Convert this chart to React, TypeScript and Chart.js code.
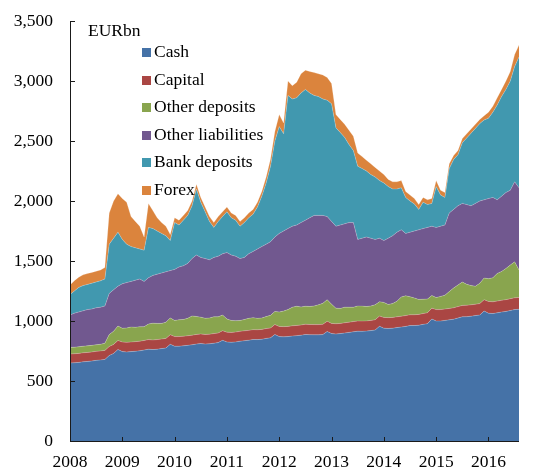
import { useEffect, useRef } from 'react';
import { Chart, registerables } from 'chart.js';

Chart.register(...registerables);

const YEARS = [2008, 2009, 2010, 2011, 2012, 2013, 2014, 2015, 2016];
const MONTHS_IN_LAST_YEAR = 8;
const Y_TICKS = [0, 500, 1000, 1500, 2000, 2500, 3000, 3500];

const CATEGORIES: string[] = [];
YEARS.forEach((y) => {
  const n = y === 2016 ? MONTHS_IN_LAST_YEAR : 12;
  for (let m = 1; m <= n; m++) CATEGORIES.push(`${y}-${String(m).padStart(2, '0')}`);
});

const CASH = [
  650, 652, 655, 660, 663, 667, 672, 676, 680, 712, 730, 763,
  745, 742, 745, 748, 752, 758, 765, 762, 765, 770, 775, 806,
  790, 790, 793, 797, 802, 808, 812, 808, 810, 815, 820, 839,
  825, 823, 826, 832, 836, 840, 846, 845, 848, 855, 860, 888,
  870, 868, 870, 875, 878, 882, 888, 886, 885, 885, 887, 913,
  895, 892, 895, 900, 905, 910, 915, 914, 916, 920, 925, 956,
  940, 938, 940, 945, 950, 955, 962, 962, 965, 972, 978, 1017,
  1000, 1000, 1005, 1010, 1015, 1025, 1035, 1036, 1040, 1045, 1050, 1083,
  1065, 1062, 1068, 1075, 1080, 1088, 1095, 1098,
];

const CAPITAL = [
  75, 75, 75, 75, 75, 75, 75, 75, 75, 75, 75, 75,
  80, 80, 80, 80, 80, 80, 80, 80, 80, 80, 80, 80,
  80, 80, 80, 80, 80, 80, 80, 80, 80, 80, 80, 80,
  82, 82, 82, 82, 82, 82, 82, 82, 82, 82, 82, 82,
  85, 85, 85, 85, 85, 85, 85, 85, 85, 85, 85, 85,
  85, 85, 85, 85, 85, 85, 85, 85, 85, 85, 85, 85,
  90, 90, 90, 90, 90, 90, 90, 90, 90, 90, 90, 90,
  95, 95, 95, 95, 95, 95, 95, 95, 95, 95, 95, 95,
  98, 98, 98, 98, 98, 98, 98, 98,
];

const OTHER_DEPOSITS = [
  55, 55, 55, 55, 55, 55, 55, 55, 60, 100, 110, 120,
  115, 120, 125, 120, 120, 115, 130, 140, 135, 130, 135, 140,
  135, 140, 140, 145, 160, 150, 140, 135, 135, 140, 135, 130,
  110, 100, 95, 90, 95, 100, 100, 95, 95, 100, 105, 110,
  120, 130, 140, 155, 160, 150, 150, 150, 155, 165, 175, 180,
  160, 130, 125, 130, 125, 120, 125, 125, 120, 120, 125, 120,
  125, 110, 115, 130, 160, 165, 150, 140, 125, 120, 115, 105,
  100, 110, 115, 140, 165, 180, 195, 175, 160, 150, 170, 180,
  190, 200, 230, 240, 260, 280, 300, 230,
];

const OTHER_LIABILITIES = [
  270, 283, 290, 295, 302, 303, 308, 309, 310, 343, 345, 332,
  370, 378, 380, 392, 398, 377, 385, 398, 410, 420, 420, 394,
  425, 440, 447, 458, 478, 512, 498, 497, 485, 495, 505, 511,
  553, 545, 537, 516, 517, 538, 552, 578, 595, 603, 613, 620,
  655, 667, 675, 675, 677, 703, 717, 739, 755, 745, 733, 692,
  690, 683, 695, 695, 705, 705, 555, 566, 579, 565, 545, 529,
  515, 552, 565, 575, 560, 520, 538, 558, 580, 588, 597, 578,
  585, 585, 585, 655, 655, 660, 655, 664, 665, 690, 685, 652,
  667, 670, 614, 627, 632, 624, 667, 684,
];

const BANK_DEPOSITS = [
  170, 185, 205, 210, 210, 215, 215, 220, 225, 410, 430, 450,
  370, 320, 290, 270, 250, 260, 420, 390, 360, 330, 300, 250,
  390, 350, 380, 400, 440, 550, 460, 390, 320, 250, 290, 310,
  340, 310, 300, 270, 290, 300, 310, 350, 420, 510, 630, 800,
  890, 810, 1110, 1060, 1060, 1080, 1090, 1040, 1000, 990, 970, 970,
  980, 820, 770, 720, 650, 600, 610, 580, 550, 530, 520, 480,
  480, 430, 390, 360, 350, 300, 260, 225, 170, 220, 190, 190,
  340, 260, 230, 370, 415, 425, 505, 555, 605, 625, 645, 665,
  670, 710, 790, 830, 860, 910, 960, 1090,
];

const FOREX = [
  80, 85, 85, 90, 90, 90, 90, 90, 95, 260, 310, 320,
  340, 350, 250, 220, 190, 110, 200, 150, 110, 90, 80, 50,
  40, 40, 40, 40, 40, 40, 40, 40, 40, 40, 40, 40,
  40, 40, 40, 40, 40, 40, 40, 40, 40, 50, 60, 80,
  100, 90, 120, 110, 130, 160, 160, 180, 190, 190, 200, 190,
  170, 110, 110, 110, 120, 120, 110, 100, 90, 90, 80, 80,
  70, 60, 60, 60, 60, 50, 50, 45, 40, 40, 40, 40,
  50, 40, 40, 40, 35, 35, 35, 35, 35, 35, 35, 35,
  50, 50, 60, 60, 70, 80, 100, 100,
];

const SERIES_NAMES = ['Cash', 'Capital', 'Other deposits', 'Other liabilities', 'Bank deposits', 'Forex'];
const SERIES_COLORS = ['#4572A7', '#AA4643', '#89A54E', '#71588F', '#4198AF', '#DB843D'];
const SERIES_VALUES = [CASH, CAPITAL, OTHER_DEPOSITS, OTHER_LIABILITIES, BANK_DEPOSITS, FOREX];

const FONT_FAMILY = '"Liberation Serif", "Times New Roman", serif';
const FONT_SIZE = 17.5;

const overlayPlugin = {
  id: 'overlay',
  afterDatasetsDraw(chart: any) {
    const { ctx, chartArea, scales } = chart;
    const { left, right, top, bottom } = chartArea;
    ctx.save();
    ctx.strokeStyle = '#1a1a1a';
    ctx.lineWidth = 1;
    ctx.beginPath();
    ctx.moveTo(left + 0.5, top);
    ctx.lineTo(left + 0.5, bottom + 0.5);
    ctx.lineTo(right, bottom + 0.5);
    ctx.stroke();
    Y_TICKS.forEach((v) => {
      const y = Math.round(scales.y.getPixelForValue(v)) + 0.5;
      ctx.beginPath();
      ctx.moveTo(left, y);
      ctx.lineTo(left + 5, y);
      ctx.stroke();
    });
    CATEGORIES.forEach((c, i) => {
      if (!c.endsWith('-01')) return;
      const x = Math.round(scales.x.getPixelForValue(i)) + 0.5;
      ctx.beginPath();
      ctx.moveTo(x, bottom);
      ctx.lineTo(x, bottom - 4);
      ctx.stroke();
    });
    ctx.font = `${FONT_SIZE}px ${FONT_FAMILY}`;
    ctx.textBaseline = 'middle';
    ctx.textAlign = 'left';
    ctx.fillStyle = '#000';
    ctx.fillText('EURbn', 88, 31);
    SERIES_NAMES.forEach((name, i) => {
      const cy = 52.5 + i * 27.5;
      ctx.fillStyle = SERIES_COLORS[i];
      ctx.fillRect(142, Math.round(cy - 4.5), 9, 9);
      ctx.fillStyle = '#000';
      ctx.fillText(name, 154, cy);
    });
    ctx.restore();
  },
};

export default function App() {
  const canvasRef = useRef<HTMLCanvasElement | null>(null);

  useEffect(() => {
    const canvas = canvasRef.current;
    if (!canvas) return;
    const datasets = SERIES_NAMES.map((name, i) => ({
      label: name,
      data: SERIES_VALUES[i],
      backgroundColor: SERIES_COLORS[i],
      borderColor: 'rgba(255,255,255,0.35)',
      borderWidth: 0.6,
      pointRadius: 0,
      tension: 0,
      fill: i === 0 ? 'origin' : '-1',
    }));
    const chart = new Chart(canvas, {
      type: 'line',
      data: { labels: CATEGORIES, datasets },
      options: {
        animation: false,
        responsive: true,
        maintainAspectRatio: false,
        layout: { padding: { left: 0, right: 26, top: 21, bottom: 0 } },
        plugins: { legend: { display: false }, tooltip: { enabled: false } },
        elements: { line: { borderJoinStyle: 'round' } },
        scales: {
          x: {
            type: 'category',
            offset: false,
            grid: { display: false, drawTicks: false },
            border: { display: false },
            ticks: {
              autoSkip: false,
              maxRotation: 0,
              padding: 11,
              color: '#000',
              font: { family: FONT_FAMILY, size: FONT_SIZE },
              callback: (_v: any, i: number) =>
                CATEGORIES[i] && CATEGORIES[i].endsWith('-01') ? CATEGORIES[i].slice(0, 4) : null,
            },
            afterFit: (scale: any) => {
              scale.height = 29;
              scale.paddingLeft = 0;
              scale.paddingRight = 0;
            },
          },
          y: {
            stacked: true,
            min: 0,
            max: 3500,
            grid: { display: false, drawTicks: false },
            border: { display: false },
            ticks: {
              stepSize: 500,
              padding: 17,
              color: '#000',
              font: { family: FONT_FAMILY, size: FONT_SIZE },
              callback: (v: any) => Number(v).toLocaleString('en-US'),
            },
            afterFit: (scale: any) => {
              scale.width = 70;
              scale.paddingTop = 0;
              scale.paddingBottom = 0;
            },
          },
        },
      },
      plugins: [overlayPlugin],
    });
    return () => chart.destroy();
  }, []);

  return (
    <div style={{ position: 'absolute', left: 0, top: 0, width: 545, height: 470, background: '#fff' }}>
      <canvas ref={canvasRef} />
    </div>
  );
}
